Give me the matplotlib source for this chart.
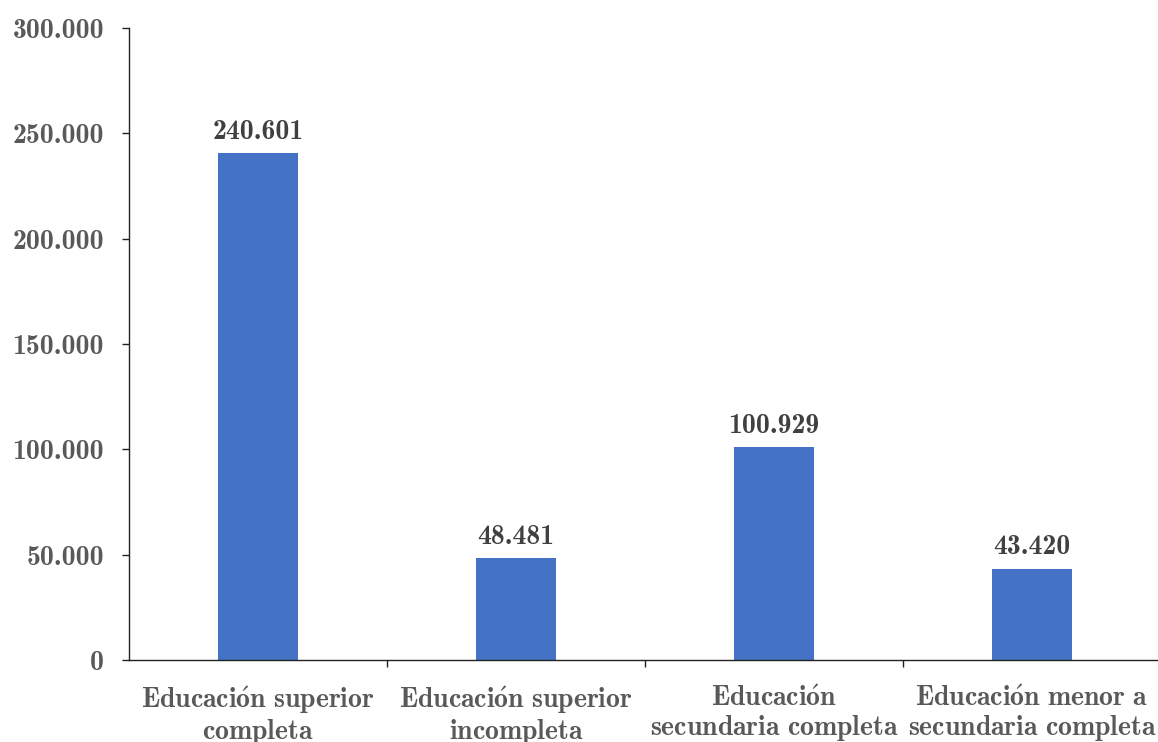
import matplotlib
matplotlib.use("Agg")
import matplotlib.pyplot as plt
from matplotlib.ticker import FixedLocator

categories = ["Educación superior\ncompleta",
              "Educación superior\nincompleta",
              "Educación\nsecundaria completa",
              "Educación menor a\nsecundaria completa"]
values = [240601, 48481, 100929, 43420]
yticks = [0, 50000, 100000, 150000, 200000, 250000, 300000]

plt.rcParams['mathtext.fontset'] = 'cm'
FS = 20


def mt(s):
    out = []
    for line in s.split('\n'):
        line = line.replace(' ', r'\ ').replace('ó', r'\acute{o}')
        out.append(r'$\mathbf{' + line + '}$')
    return '\n'.join(out)


def fmt_num(v):
    return f"{int(round(v)):,}".replace(',', '.')


W, H = 1158, 742
fig = plt.figure(figsize=(W / 100, H / 100), dpi=100)
left = 129 / W
right = 1161 / W
bottom = 1 - 660 / H
top = 1 - 28 / H
ax = fig.add_axes([left, bottom, right - left, top - bottom])

x = list(range(len(categories)))
ax.bar(x, values, width=0.31, color='#4472C4', zorder=2)

ax.set_xlim(-0.5, len(categories) - 0.5)
ax.set_ylim(0, 300000)

for xi, v in zip(x, values):
    ax.annotate(fmt_num(v), (xi, v), xytext=(0, 6), textcoords='offset points',
                ha='center', va='bottom', fontsize=FS, color='#404040',
                fontfamily='cmb10')

ax.yaxis.set_major_locator(FixedLocator(yticks))
ax.set_yticklabels([fmt_num(v) for v in yticks], fontfamily='cmb10')
ax.tick_params(axis='y', direction='out', length=5, width=1, color='#222222',
               labelsize=FS, labelcolor='#595959', pad=13)

ax.set_xticks(x)
ax.set_xticklabels([mt(c) for c in categories])
ax.tick_params(axis='x', which='major', length=0, labelsize=FS,
               labelcolor='#595959', pad=17)
for lbl in ax.get_xticklabels():
    lbl.set_linespacing(1.06)
ax.set_xticks([i + 0.5 for i in range(len(categories) - 1)], minor=True)
ax.tick_params(axis='x', which='minor', direction='out', length=5, width=1,
               color='#222222')

for s in ['top', 'right']:
    ax.spines[s].set_visible(False)
for s in ['left', 'bottom']:
    ax.spines[s].set_color('#222222')
    ax.spines[s].set_linewidth(1)

fig.savefig('out.png', dpi=100)
